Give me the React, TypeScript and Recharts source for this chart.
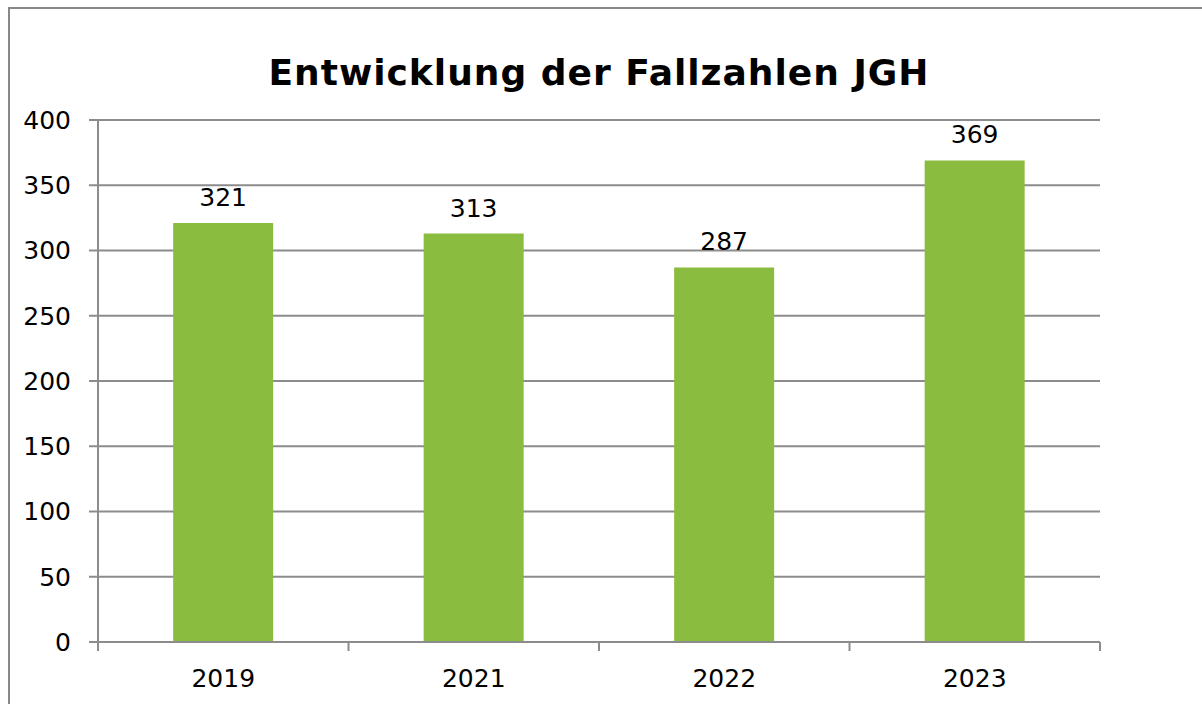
import React from 'react';
import { BarChart, Bar, XAxis, YAxis, CartesianGrid, LabelList } from 'recharts';

const years = ['2019', '2021', '2022', '2023'];
const fallzahlen = [321, 313, 287, 369];
const yTicks = [0, 50, 100, 150, 200, 250, 300, 350, 400];
const title = 'Entwicklung der Fallzahlen JGH';

const data = years.map((y, i) => ({ year: y, value: fallzahlen[i] }));

const FONT = '"DejaVu Sans", Verdana, sans-serif';
const GRID = '#8c8c8c';
const TICK_SIZE = 9;
const TICK_MARGIN = 18;

function CategoryTick(props: any) {
  const { x, y, payload, width, visibleTicksCount, index } = props;
  const band = width && visibleTicksCount ? width / visibleTicksCount : 0;
  const axisY = y - TICK_SIZE - TICK_MARGIN;
  return (
    <g>
      {band > 0 && (
        <line x1={x - band / 2} x2={x - band / 2} y1={axisY} y2={axisY + TICK_SIZE} stroke={GRID} strokeWidth={2} />
      )}
      {band > 0 && index === visibleTicksCount - 1 && (
        <line x1={x + band / 2} x2={x + band / 2} y1={axisY} y2={axisY + TICK_SIZE} stroke={GRID} strokeWidth={2} />
      )}
      <text x={x} y={y} dy="0.71em" textAnchor="middle" fill="#000" fontSize={25} fontFamily={FONT}>
        {payload.value}
      </text>
    </g>
  );
}

export default function App() {
  return (
    <div style={{ position: 'fixed', left: 0, top: 0, width: 1202, height: 704, overflow: 'hidden', background: '#fff' }}>
      <div style={{ position: 'absolute', left: 8, top: 7, width: 1300, height: 800, border: `2px solid #888` }} />
      <div
        style={{
          position: 'absolute',
          left: 0,
          width: 1198,
          top: 55,
          textAlign: 'center',
          fontFamily: FONT,
          fontWeight: 'bold',
          fontSize: 36,
          letterSpacing: '1px',
          lineHeight: '36px',
          color: '#000',
          whiteSpace: 'nowrap',
        }}
      >
        {title}
      </div>
      <div style={{ position: 'absolute', left: 0, top: 0 }}>
        <BarChart
          width={1202}
          height={704}
          data={data}
          margin={{ top: 120, right: 102, left: 0, bottom: 0 }}
          barCategoryGap="30%"
          style={{ fontFamily: FONT }}
        >
          <CartesianGrid horizontal vertical={false} stroke={GRID} strokeWidth={2} />
          <XAxis
            dataKey="year"
            height={62}
            tickLine={false}
            axisLine={{ stroke: GRID, strokeWidth: 2 }}
            tickSize={TICK_SIZE}
            tickMargin={TICK_MARGIN}
            tick={<CategoryTick />}
            interval={0}
          />
          <YAxis
            width={98}
            domain={[0, 400]}
            ticks={yTicks}
            interval={0}
            tickSize={TICK_SIZE}
            tickMargin={TICK_MARGIN}
            tickLine={{ stroke: GRID, strokeWidth: 2 }}
            axisLine={{ stroke: GRID, strokeWidth: 2 }}
            tick={{ fill: '#000', fontSize: 25, fontFamily: FONT }}
          />
          <Bar dataKey="value" fill="#8abc3f" isAnimationActive={false}>
            <LabelList dataKey="value" position="top" offset={17} fill="#000" fontSize={25} fontFamily={FONT} />
          </Bar>
        </BarChart>
      </div>
    </div>
  );
}
